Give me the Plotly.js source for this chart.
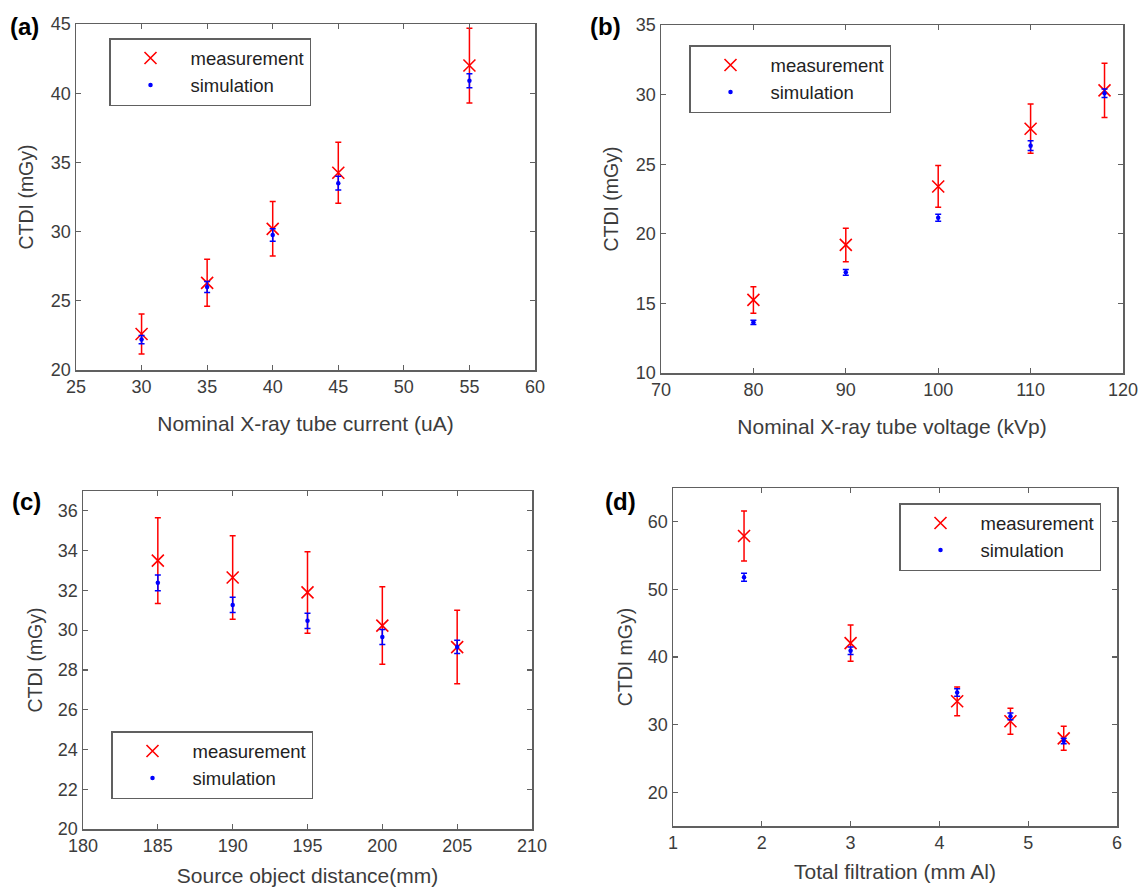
<!DOCTYPE html>
<html>
<head>
<meta charset="utf-8">
<script src="https://cdn.plot.ly/plotly-3.0.1.min.js"></script>
<style>html,body{margin:0;padding:0;background:#fff;}#chart{width:1145px;height:890px;}</style>
</head>
<body>
<div id="chart"></div>
<script>
// Panel (a): tube current
const a_x = [30, 35, 40, 45, 55];
const a_meas = [22.6, 26.3, 30.2, 34.25, 42.0];
const a_meas_err = [1.45, 1.7, 1.97, 2.2, 2.7];
const a_sim = [22.2, 26.0, 29.75, 33.5, 40.9];
const a_sim_err = [0.3, 0.4, 0.45, 0.5, 0.5];

// Panel (b): tube voltage
const b_x = [80, 90, 100, 110, 118];
const b_meas = [15.25, 19.2, 23.4, 27.55, 30.3];
const b_meas_err = [0.95, 1.2, 1.5, 1.77, 1.95];
const b_sim = [13.64, 17.23, 21.16, 26.33, 30.1];
const b_sim_err = [0.15, 0.2, 0.25, 0.35, 0.3];

// Panel (c): source object distance
const c_x = [185, 190, 195, 200, 205];
const c_meas = [33.5, 32.65, 31.9, 30.23, 29.15];
const c_meas_err = [2.16, 2.1, 2.05, 1.95, 1.85];
const c_sim = [32.38, 31.27, 30.47, 29.66, 29.16];
const c_sim_err = [0.4, 0.38, 0.38, 0.38, 0.33];

// Panel (d): total filtration
const d_x = [1.8, 3, 4.2, 4.8, 5.4];
const d_meas = [57.9, 42.05, 33.45, 30.5, 27.97];
const d_meas_err = [3.7, 2.67, 2.13, 1.93, 1.78];
const d_sim = [51.8, 40.92, 34.75, 31.23, 27.57];
const d_sim_err = [0.6, 0.55, 0.55, 0.5, 0.4];

const series_names = ['measurement', 'simulation'];
const panel_labels = ['(a)', '(b)', '(c)', '(d)'];
const x_titles = ['Nominal X-ray tube current (uA)', 'Nominal X-ray tube voltage (kVp)', 'Source object distance(mm)', 'Total filtration (mm Al)'];
const y_titles = ['CTDI (mGy)', 'CTDI (mGy)', 'CTDI (mGy)', 'CTDI mGy)'];

const RED = '#ff0000', BLUE = '#0000ff';
const FONT = 'Liberation Sans, Arial, sans-serif';
const W = 1145, H = 890;

const panels = [
  {x: a_x, m: a_meas, me: a_meas_err, s: a_sim, se: a_sim_err, xa: 'x', ya: 'y', lg: 'legend'},
  {x: b_x, m: b_meas, me: b_meas_err, s: b_sim, se: b_sim_err, xa: 'x2', ya: 'y2', lg: 'legend2'},
  {x: c_x, m: c_meas, me: c_meas_err, s: c_sim, se: c_sim_err, xa: 'x3', ya: 'y3', lg: 'legend3'},
  {x: d_x, m: d_meas, me: d_meas_err, s: d_sim, se: d_sim_err, xa: 'x4', ya: 'y4', lg: 'legend4'}
];

const traces = [];
panels.forEach(p => {
  traces.push({
    type: 'scatter', mode: 'markers', name: series_names[0],
    x: p.x, y: p.m, xaxis: p.xa, yaxis: p.ya, legend: p.lg,
    marker: {symbol: 'x-thin-open', size: 12, color: RED, line: {color: RED, width: 1.6}},
    error_y: {type: 'data', array: p.me, visible: true, color: RED, thickness: 1.5, width: 3}
  });
  traces.push({
    type: 'scatter', mode: 'markers', name: series_names[1],
    x: p.x, y: p.s, xaxis: p.xa, yaxis: p.ya, legend: p.lg,
    marker: {symbol: 'circle', size: 4.5, color: BLUE},
    error_y: {type: 'data', array: p.se, visible: true, color: BLUE, thickness: 1.5, width: 3}
  });
});

// plot boxes in pixels: [left, right, top, bottom]
const boxes = [[76, 535, 24, 370], [661, 1123, 25, 373], [83, 532, 491, 829], [673, 1117, 488, 826]];
const dx = b => [b[0] / W, b[1] / W];
const dy = b => [1 - b[3] / H, 1 - b[2] / H];

const tickFont = {family: FONT, size: 18, color: '#3c3c3c'};
const xTitleFont = {family: FONT, size: 21, color: '#3c3c3c'};
const yTitleFont = {family: FONT, size: 19.5, color: '#3c3c3c'};
const xStandoff = [20, 20, 13, 12];
const yStandoff = [12, 12, 10, 10];

function xaxis(i, range, dtick) {
  return {
    domain: dx(boxes[i]), range: range, dtick: dtick, tick0: 0,
    anchor: 'y' + (i ? i + 1 : ''),
    showline: true, linecolor: '#606060', linewidth: 1.5, mirror: 'ticks',
    ticks: 'inside', ticklen: 5, tickwidth: 1.2, tickcolor: '#606060',
    showgrid: false, zeroline: false, tickfont: tickFont,
    title: {text: x_titles[i], font: xTitleFont, standoff: xStandoff[i]}
  };
}
function yaxis(i, range, dtick) {
  return {
    domain: dy(boxes[i]), range: range, dtick: dtick, tick0: 0,
    anchor: 'x' + (i ? i + 1 : ''),
    showline: true, linecolor: '#606060', linewidth: 1.5, mirror: 'ticks',
    ticks: 'inside', ticklen: 5, tickwidth: 1.2, tickcolor: '#606060',
    showgrid: false, zeroline: false, tickfont: tickFont,
    title: {text: y_titles[i], font: yTitleFont, standoff: yStandoff[i]}
  };
}

function legend(left, top) {
  return {
    x: left / W, y: 1 - top / H, xanchor: 'left', yanchor: 'top',
    bgcolor: '#ffffff', bordercolor: '#606060', borderwidth: 1.5,
    font: {family: FONT, size: 18.5, color: '#222'},
    itemwidth: 70, tracegroupgap: 0
  };
}

const lblPos = [[8, 26], [588, 26], [10, 501], [603, 501]];
const annotations = panel_labels.map((t, i) => ({
  text: '<b>' + t + '</b>', xref: 'paper', yref: 'paper',
  x: lblPos[i][0] / W, y: 1 - lblPos[i][1] / H, xanchor: 'left', yanchor: 'middle',
  showarrow: false, font: {family: FONT, size: 24, color: '#000'}
}));

const layout = {
  width: W, height: H, margin: {l: 0, r: 0, t: 0, b: 0},
  paper_bgcolor: '#fff', plot_bgcolor: '#fff',
  showlegend: true,
  xaxis: xaxis(0, [25, 60], 5), yaxis: yaxis(0, [20, 45], 5),
  xaxis2: xaxis(1, [70, 120], 10), yaxis2: yaxis(1, [10, 35], 5),
  xaxis3: xaxis(2, [180, 210], 5), yaxis3: yaxis(2, [20, 37], 2),
  xaxis4: xaxis(3, [1, 6], 1), yaxis4: yaxis(3, [15, 65], 10),
  legend: legend(109, 38), legend2: legend(689, 45),
  legend3: legend(111, 731), legend4: legend(899, 503),
  annotations: annotations
};

Plotly.newPlot('chart', traces, layout, {displayModeBar: false, staticPlot: true});
</script>
</body>
</html>
